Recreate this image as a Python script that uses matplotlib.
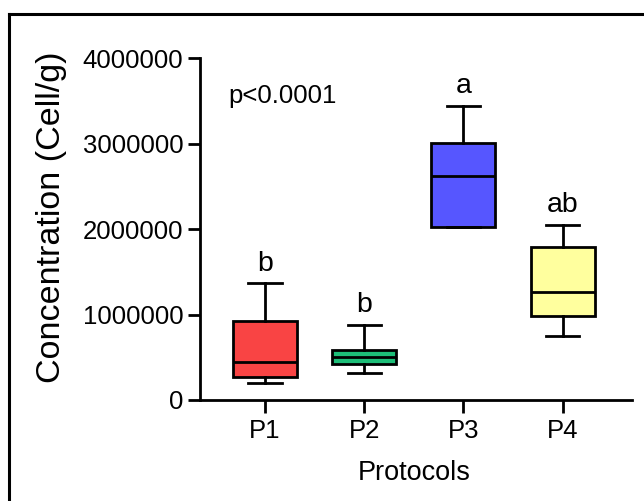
import matplotlib
matplotlib.use('Agg')
import matplotlib.pyplot as plt
from matplotlib.lines import Line2D

plt.rcParams['font.family'] = ['Liberation Sans', 'DejaVu Sans']

# box plot summary (cells per gram)
protocols = ['P1', 'P2', 'P3', 'P4']
whisker_low = [195000, 320000, 2022000, 750000]
q1 = [273000, 418000, 2022000, 984000]
medians = [441000, 500000, 2623000, 1268000]
q3 = [925000, 585000, 3006000, 1795000]
whisker_high = [1366000, 878000, 3443000, 2049000]
letters = ['b', 'b', 'a', 'ab']
box_colors = ['#F94444', '#1DBE78', '#5656FF', '#FFFF9E']
y_ticks = [0, 1000000, 2000000, 3000000, 4000000]

stats = []
for i in range(len(protocols)):
    stats.append(dict(label=protocols[i], whislo=whisker_low[i], q1=q1[i], med=medians[i],
                      q3=q3[i], whishi=whisker_high[i], fliers=[]))

fig = plt.figure(figsize=(6.44, 5.01), dpi=100)
ax = fig.add_axes([0.3106, 0.2016, 0.6708, 0.682])

lw = 2.0
positions = list(range(1, len(protocols) + 1))
bp = ax.bxp(stats, positions=positions, widths=0.646, capwidths=0.333, patch_artist=True,
            showfliers=False,
            boxprops=dict(linewidth=lw, edgecolor='black'),
            whiskerprops=dict(linewidth=lw, color='black'),
            capprops=dict(linewidth=lw, color='black'),
            medianprops=dict(linewidth=lw, color='black'))
for patch, c in zip(bp['boxes'], box_colors):
    patch.set_facecolor(c)

# significance letters above the whiskers
for x, top, letter in zip(positions, whisker_high, letters):
    ax.annotate(letter, (x, top), xytext=(0, 9), textcoords='offset points',
                ha='center', va='baseline', fontsize=20.5)

ax.text(0.066, 0.870, 'p<0.0001', transform=ax.transAxes, fontsize=18.5, va='baseline', ha='left')

ax.set_xlim(0.345, 4.70)
ax.set_ylim(0, 4000000)
ax.set_yticks(y_ticks)
ax.set_yticklabels([str(v) for v in y_ticks])
ax.set_xticks(positions)
ax.set_xticklabels(protocols)

for s in ['top', 'right']:
    ax.spines[s].set_visible(False)
for s in ['left', 'bottom']:
    ax.spines[s].set_linewidth(lw)
ax.tick_params(direction='out', length=9, width=lw, labelsize=18.5, pad=3)
ax.tick_params(axis='x', pad=5)

ax.set_ylabel('Concentration (Cell/g)', fontsize=24.5, va='center')
ax.yaxis.set_label_coords(-0.343, 0.536)
ax.set_xlabel('Protocols', fontsize=19.5, va='baseline')
ax.xaxis.set_label_coords(0.495, -0.234)

# outer frame (runs off the right and bottom edges)
fig.add_artist(Line2D([0.0132, 0.0132], [0.0, 0.972], transform=fig.transFigure, color='black', lw=2.2))
fig.add_artist(Line2D([0.0132, 1.0], [0.972, 0.972], transform=fig.transFigure, color='black', lw=2.2))

fig.savefig('out.png', dpi=100)
